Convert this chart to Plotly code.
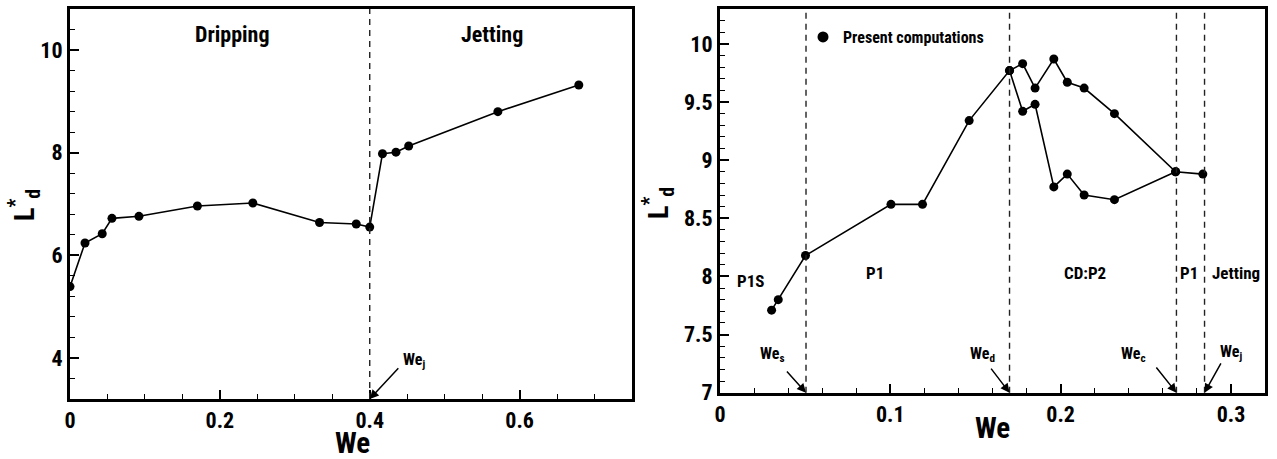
import plotly.graph_objects as go

# ---- Left panel: drop length vs Weber number ----
we_left = [0.0, 0.02, 0.043, 0.056, 0.092, 0.170, 0.244, 0.333, 0.382, 0.400,
           0.417, 0.435, 0.452, 0.571, 0.679]
ld_left = [5.39, 6.24, 6.42, 6.72, 6.76, 6.96, 7.02, 6.64, 6.61, 6.55,
           7.98, 8.01, 8.13, 8.80, 9.32]
we_j_left = 0.4

# ---- Right panel: drop length vs Weber number, two branches ----
we_right = [0.0303, 0.0342, 0.0502, 0.1004, 0.1189, 0.1463, 0.17,
            0.1777, 0.185, 0.196, 0.2039, 0.2138, 0.2316, 0.2675, 0.2835]
ld_right = [7.71, 7.80, 8.18, 8.62, 8.62, 9.34, 9.77,
            9.83, 9.62, 9.87, 9.67, 9.62, 9.40, 8.90, 8.88]
we_branch = [0.17, 0.1777, 0.185, 0.196, 0.2039, 0.2138, 0.2316, 0.2675]
ld_branch = [9.77, 9.42, 9.48, 8.77, 8.88, 8.70, 8.66, 8.90]

# regime boundaries
we_s, we_d, we_c, we_j = 0.0505, 0.17, 0.268, 0.2845
boundaries = [("We<sub>s</sub>", we_s), ("We<sub>d</sub>", we_d),
              ("We<sub>c</sub>", we_c), ("We<sub>j</sub>", we_j)]

FONT = "Roboto Condensed, Liberation Sans Narrow, Arial Narrow, Liberation Sans, Arial"

fig = go.Figure()

line_style = dict(color="black", width=1.6)
marker_style = dict(color="black", size=9)

fig.add_trace(go.Scatter(x=we_left, y=ld_left, mode="lines+markers",
                         line=line_style, marker=marker_style,
                         xaxis="x", yaxis="y", showlegend=False))
fig.add_trace(go.Scatter(x=we_right, y=ld_right, mode="lines+markers",
                         line=line_style, marker=marker_style,
                         xaxis="x2", yaxis="y2", showlegend=False))
fig.add_trace(go.Scatter(x=we_branch, y=ld_branch, mode="lines+markers",
                         line=line_style, marker=marker_style,
                         xaxis="x2", yaxis="y2", showlegend=False))
# legend entry (marker only)
fig.add_trace(go.Scatter(x=[None], y=[None], mode="markers",
                         marker=dict(color="black", size=11),
                         name="<b>Present computations</b>",
                         xaxis="x2", yaxis="y2", showlegend=True))

H = 459.0
W = 1277.0

axis_common = dict(
    showline=True, linecolor="black", linewidth=3, mirror=True,
    ticks="inside", ticklen=9, tickwidth=1.5, tickcolor="black",
    showgrid=False, zeroline=False, automargin=False,
    tickfont=dict(family=FONT, size=22, color="black", weight="bold"),
)

fig.update_layout(
    template="none",
    width=1277, height=459,
    margin=dict(l=0, r=0, t=0, b=0),
    paper_bgcolor="white", plot_bgcolor="white",
    font=dict(family=FONT, color="black"),
    xaxis=dict(axis_common, domain=[70 / W, 632 / W], range=[0, 0.75],
               tick0=0, dtick=0.2,
               minor=dict(ticks="inside", ticklen=5, tickwidth=1, dtick=0.05,
                          tickcolor="black"),
               anchor="y"),
    yaxis=dict(axis_common, domain=[1 - 399 / H, 1 - 9 / H], range=[3.2, 10.8],
               tick0=0, dtick=2,
               minor=dict(ticks="inside", ticklen=5, tickwidth=1, dtick=0.4,
                          tickcolor="black"),
               anchor="x"),
    xaxis2=dict(axis_common, domain=[720 / W, 1265 / W], range=[0, 0.32],
                tick0=0, dtick=0.1,
                minor=dict(ticks="inside", ticklen=5, tickwidth=1, dtick=0.02,
                           tickcolor="black"),
                anchor="y2"),
    yaxis2=dict(axis_common, domain=[1 - 392.7 / H, 1 - 9 / H], range=[7, 10.3],
                tick0=0, dtick=0.5,
                minor=dict(ticks="inside", ticklen=5, tickwidth=1, dtick=0.1,
                           tickcolor="black"),
                anchor="x2"),
    legend=dict(x=803 / W, y=1 - 20 / H, xanchor="left", yanchor="top",
                bgcolor="rgba(0,0,0,0)", borderwidth=0,
                font=dict(family=FONT, size=16, color="black"),
                itemwidth=30),
)

dash_line = dict(color="#222222", width=1.4, dash="6px,5px")

# vertical boundary lines
fig.add_shape(type="line", xref="x", yref="y domain", x0=we_j_left, x1=we_j_left,
              y0=0, y1=1, line=dash_line)
for _, xb in boundaries:
    fig.add_shape(type="line", xref="x2", yref="y2 domain", x0=xb, x1=xb,
                  y0=0, y1=1, line=dash_line)

# regime labels
def label(text, x, y, xref, yref, size):
    fig.add_annotation(text=f"<b>{text}</b>", x=x, y=y, xref=xref, yref=yref,
                       xanchor="center", yanchor="middle",
                       showarrow=False, font=dict(family=FONT, size=size, color="black"))

label("Dripping", 0.217, 10.31, "x", "y", 22)
label("Jetting", 0.5636, 10.31, "x", "y", 22)
label("P1S", 0.0179, 7.96, "x2", "y2", 17)
label("P1", 0.0912, 8.03, "x2", "y2", 17)
label("CD:P2", 0.2142, 8.03, "x2", "y2", 17)
label("P1", 0.2753, 8.03, "x2", "y2", 17)
label("Jetting", 0.303, 8.03, "x2", "y2", 17)

# arrows to the boundaries on the x-axis
def arrow(x_tip, y_tip, x_tail, y_tail, xref, yref):
    fig.add_annotation(x=x_tip, y=y_tip, ax=x_tail, ay=y_tail, xref=xref, yref=yref,
                       axref=xref, ayref=yref, text="", showarrow=True,
                       arrowhead=2, arrowsize=1.2, arrowwidth=1.5, arrowcolor="black")

# left panel We_j
label("We<sub>j</sub>", 0.4596, 3.95, "x", "y", 16)
arrow(we_j_left, 3.2, 0.44, 3.83, "x", "y")

# right panel
lbl = {we_s: (0.0307, 7.33), we_d: (0.154, 7.33), we_c: (0.243, 7.33), we_j: (0.3, 7.35)}
tail = {we_s: (0.0385, 7.195), we_d: (0.1585, 7.22), we_c: (0.2555, 7.23), we_j: (0.2946, 7.265)}
for text, xb in boundaries:
    lx, ly = lbl[xb]
    label(text, lx, ly, "x2", "y2", 16)
    tx, ty = tail[xb]
    arrow(xb, 7.0, tx, ty, "x2", "y2")

# axis titles
def title(text, px, py, size, angle=0):
    fig.add_annotation(text=text, x=px / W, y=1 - py / H, xref="paper", yref="paper",
                       xanchor="center", yanchor="middle", textangle=angle,
                       showarrow=False, font=dict(family=FONT, size=size, color="black"))

title("<b>We</b>", 352, 443, 29)
title("<b>We</b>", 992, 428, 29)
title("<b>L<sup>*</sup><sub>d</sub></b>", 24, 205, 28, -90)
title("<b>L<sup>*</sup><sub>d</sub></b>", 658, 203, 28, -90)

fig.write_html("out.html")
